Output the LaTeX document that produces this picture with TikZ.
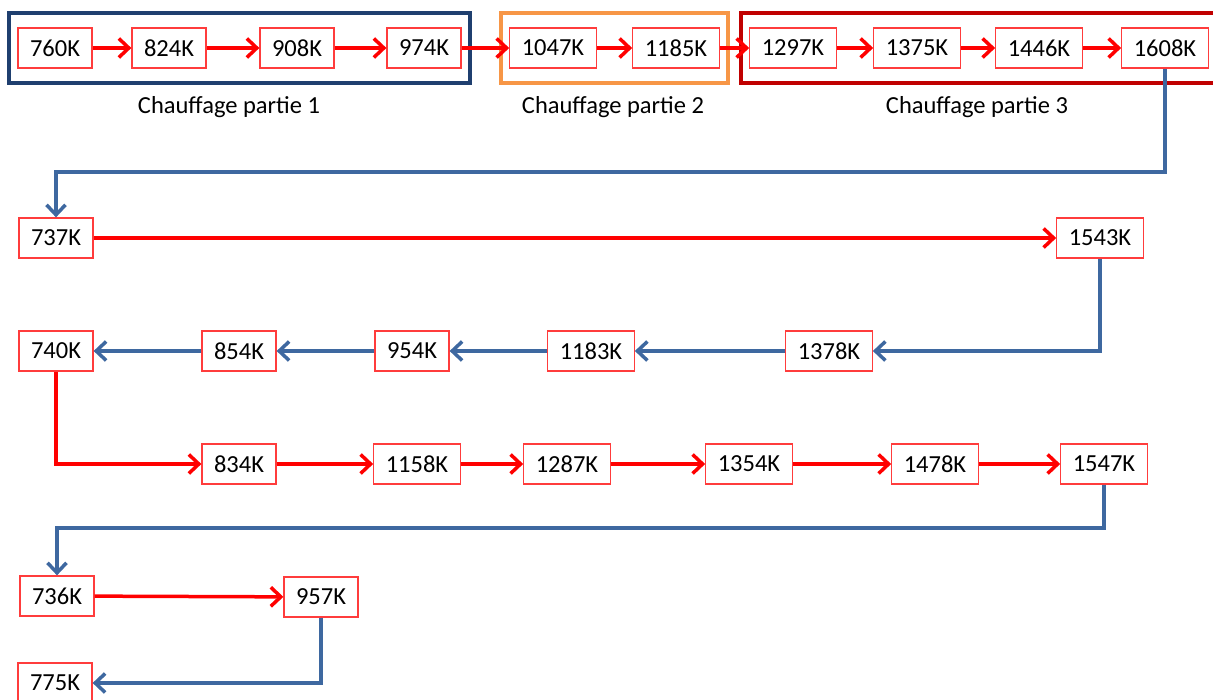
\documentclass[tikz,border=0pt]{standalone}
\usepackage{fontspec}
\setmainfont{Carlito}
\usepackage{tikz}
\usetikzlibrary{arrows.meta,positioning,fit}

\definecolor{boxred}{RGB}{255,60,60}
\definecolor{linkblue}{RGB}{62,104,160}
\definecolor{navy}{RGB}{31,63,111}
\definecolor{orangeframe}{RGB}{247,150,70}
\definecolor{darkred}{RGB}{192,0,0}

\tikzset{
    temp/.style={draw=boxred,line width=1.3pt,fill=white,minimum height=40pt,
        inner xsep=12pt,font=\fontsize{24.5}{28}\selectfont},
    redlink/.style={red,line width=3.5pt,-{Straight Barb[length=10pt,width=19pt]}},
    bluelink/.style={linkblue,line width=3.5pt,-{Straight Barb[length=10pt,width=19pt]}},
    frame/.style={line width=4pt,inner xsep=8pt,inner ysep=14pt},
    caption/.style={font=\fontsize{24.5}{28}\selectfont}
}

\begin{document}
\begin{tikzpicture}[x=1pt,y=-1pt]
    \useasboundingbox (0,0) rectangle (1213,700);
    % Heating chain, top row
    \node[temp] (t1) at (55,48) {760K};
    \node[temp] (t2) at (169,48) {824K};
    \node[temp] (t3) at (297,48) {908K};
    \node[temp] (t4) at (424,48) {974K};
    \node[temp] (t5) at (553,48) {1047K};
    \node[temp] (t6) at (676,48) {1185K};
    \node[temp] (t7) at (793,48) {1297K};
    \node[temp] (t8) at (917,48) {1375K};
    \node[temp] (t9) at (1039,48) {1446K};
    \node[temp] (t10) at (1165,48) {1608K};
    % Frames round the three parts
    \node[frame,draw=navy,fit=(t1)(t4)] (f1) {};
    \node[frame,draw=orangeframe,fit=(t5)(t6)] (f2) {};
    \node[frame,draw=darkred,fit=(t7)(t10)] (f3) {};
    \node[caption] (c1lab) at (229,107) {Chauffage partie 1};
    \node[caption] (c2lab) at (613,107) {Chauffage partie 2};
    \node[caption] (c3lab) at (977,107) {Chauffage partie 3};
    % Other rows
    \node[temp] (a1) at (56,238) {737K};
    \node[temp] (a2) at (1100,238) {1543K};
    \node[temp] (b1) at (56,351) {740K};
    \node[temp] (b2) at (239,351) {854K};
    \node[temp] (b3) at (412,351) {954K};
    \node[temp] (b4) at (591,351) {1183K};
    \node[temp] (b5) at (829,351) {1378K};
    \node[temp] (c1) at (239,464) {834K};
    \node[temp] (c2) at (417,464) {1158K};
    \node[temp] (c3) at (567,464) {1287K};
    \node[temp] (c4) at (749,464) {1354K};
    \node[temp] (c5) at (935,464) {1478K};
    \node[temp] (c6) at (1104,464) {1547K};
    \node[temp] (d1) at (57,596) {736K};
    \node[temp] (d2) at (321,597) {957K};
    \node[temp] (d3) at (55,683) {775K};
    \coordinate (turn1) at (0,172);
    \coordinate (turn2) at (0,528);
    % Red links
    \foreach \i/\j in {t1/t2,t2/t3,t3/t4,t4/t5,t5/t6,t6/t7,t7/t8,t8/t9,t9/t10,
                       a1/a2,c1/c2,c2/c3,c3/c4,c4/c5,c5/c6,d1/d2}
        \draw[redlink] (\i) -- (\j);
    \draw[redlink] (b1.south) |- (c1.west);
    % Blue links
    \foreach \i/\j in {b5/b4,b4/b3,b3/b2,b2/b1}
        \draw[bluelink] (\i) -- (\j);
    \draw[bluelink] (t10.south) |- (turn1 -| a1.north) -- (a1.north);
    \draw[bluelink] (a2.south) |- (b5.east);
    \draw[bluelink] (c6.south) |- (turn2 -| d1.north) -- (d1.north);
    \draw[bluelink] (d2.south) |- (d3.east);
\end{tikzpicture}
\end{document}
